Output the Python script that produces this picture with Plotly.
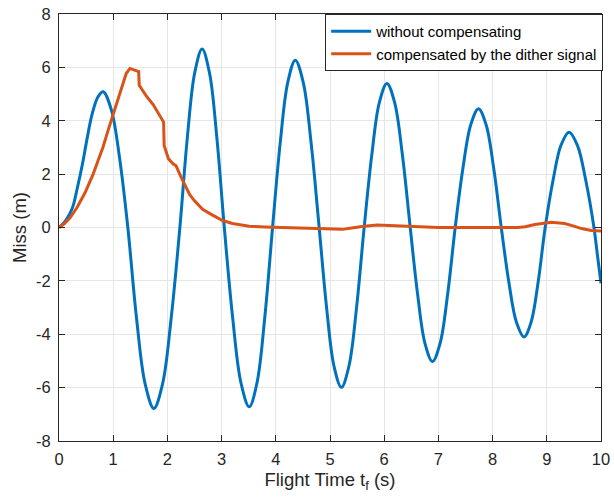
import plotly.graph_objects as go

# Blue series: without compensating
blue_t = [0, 0.12, 0.245, 0.34, 0.43, 0.52, 0.61, 0.72, 0.815,
          0.967, 1.118, 1.27, 1.43, 1.59, 1.75, 1.91, 2.07, 2.23,
          2.367, 2.503, 2.64, 2.777, 2.913, 3.05, 3.203, 3.357, 3.51,
          3.653, 3.797, 3.94, 4.08, 4.22, 4.36, 4.507, 4.653, 4.8,
          4.937, 5.073, 5.21, 5.35, 5.49, 5.63, 5.77, 5.91, 6.05,
          6.193, 6.337, 6.48, 6.617, 6.753, 6.89, 7.03, 7.17, 7.31,
          7.453, 7.597, 7.74, 7.88, 8.02, 8.16, 8.3, 8.44, 8.58,
          8.71, 8.84, 8.97, 9.117, 9.263, 9.41, 9.563, 9.717, 9.87, 9.935, 10.0]
blue_y = [0, 0.25, 0.72, 1.5, 2.35, 3.35, 4.24, 4.9, 5.09,
          4.4, 2.6, 0.0, -3.39, -5.87, -6.78, -5.87, -3.39, 0.0,
          3.35, 5.79, 6.69, 5.79, 3.35, 0.0, -3.36, -5.82, -6.72,
          -5.82, -3.36, 0.0, 3.14, 5.43, 6.27, 5.43, 3.14, 0.0,
          -3.0, -5.19, -5.99, -5.19, -3.0, 0.0, 2.7, 4.68, 5.4,
          4.68, 2.7, 0.0, -2.51, -4.35, -5.02, -4.35, -2.51, 0.0,
          2.23, 3.85, 4.45, 3.85, 2.23, 0.0, -2.05, -3.55, -4.1,
          -3.55, -2.05, 0.0, 1.79, 3.09, 3.57, 3.09, 1.79, 0.0, -1.05, -2.09]

# Orange series: compensated by the dither signal
orange_t = [0, 0.1, 0.2, 0.33, 0.48, 0.63, 0.72, 0.81, 0.9, 1.0, 1.08, 1.15, 1.24, 1.31,
            1.36, 1.47, 1.48, 1.55, 1.62, 1.74, 1.8, 1.93, 1.94, 2.02, 2.11, 2.16, 2.25,
            2.32, 2.41, 2.5, 2.65, 2.8, 3.02, 3.2, 3.51, 3.8, 4.43, 5.0, 5.23, 5.4, 5.59,
            5.87, 6.2, 6.58, 7.0, 7.56, 8.47, 8.6, 8.78, 9.09, 9.33, 9.5, 9.64, 9.82, 10.0]
orange_y = [0, 0.15, 0.35, 0.74, 1.3, 2.0, 2.5, 3.0, 3.6, 4.26, 4.75, 5.2, 5.77, 5.96,
            5.92, 5.84, 5.33, 5.1, 4.9, 4.6, 4.4, 3.95, 3.07, 2.57, 2.38, 2.31, 1.9,
            1.62, 1.24, 1.0, 0.68, 0.5, 0.26, 0.15, 0.05, 0.02, -0.03, -0.05, -0.07, -0.02,
            0.04, 0.09, 0.06, 0.01, 0.0, 0.0, 0.0, 0.03, 0.11, 0.2, 0.15, 0.05, -0.04, -0.11, -0.13]

x_ticks = list(range(0, 11))
y_ticks = list(range(-8, 9, 2))
x_ticktext = [str(v) for v in x_ticks]
y_ticktext = [str(v) for v in y_ticks]

fig = go.Figure()
fig.add_trace(go.Scatter(x=blue_t, y=blue_y, mode="lines", name="without compensating",
                         line=dict(color="#0072BD", width=3, shape="spline", smoothing=1.0)))
fig.add_trace(go.Scatter(x=orange_t, y=orange_y, mode="lines", name="compensated by the dither signal",
                         line=dict(color="#D95319", width=3)))

axis_common = dict(showgrid=True, gridcolor="#e6e6e6", gridwidth=1, showline=True,
                   linecolor="#262626", linewidth=1, mirror="ticks", ticks="inside",
                   ticklen=6, tickcolor="#262626", zeroline=False, automargin=False,
                   tickfont=dict(size=16.5, color="#262626"))

fig.update_xaxes(range=[0, 10], tickvals=x_ticks, ticktext=x_ticktext, ticklabelstandoff=3,
                 title=dict(text="Flight Time t<sub>f</sub> (s)", font=dict(size=18.5, color="#262626"), standoff=6),
                 **axis_common)
fig.update_yaxes(range=[-8, 8], tickvals=y_ticks, ticktext=y_ticktext, ticklabelstandoff=4,
                 title=dict(text="Miss (m)", font=dict(size=18.5, color="#262626"), standoff=4),
                 **axis_common)

fig.update_layout(
    width=614, height=500,
    margin=dict(l=59, r=11, t=14, b=59),
    plot_bgcolor="white", paper_bgcolor="white",
    font=dict(family="Liberation Sans, Arial, sans-serif", color="#262626"),
    legend=dict(x=1.004, y=1, xanchor="right", yanchor="top", bgcolor="white",
                bordercolor="#262626", borderwidth=1, font=dict(size=15, color="#000000"),
                itemwidth=40, tracegroupgap=0),
    showlegend=True,
)

fig.write_html("out.html")
